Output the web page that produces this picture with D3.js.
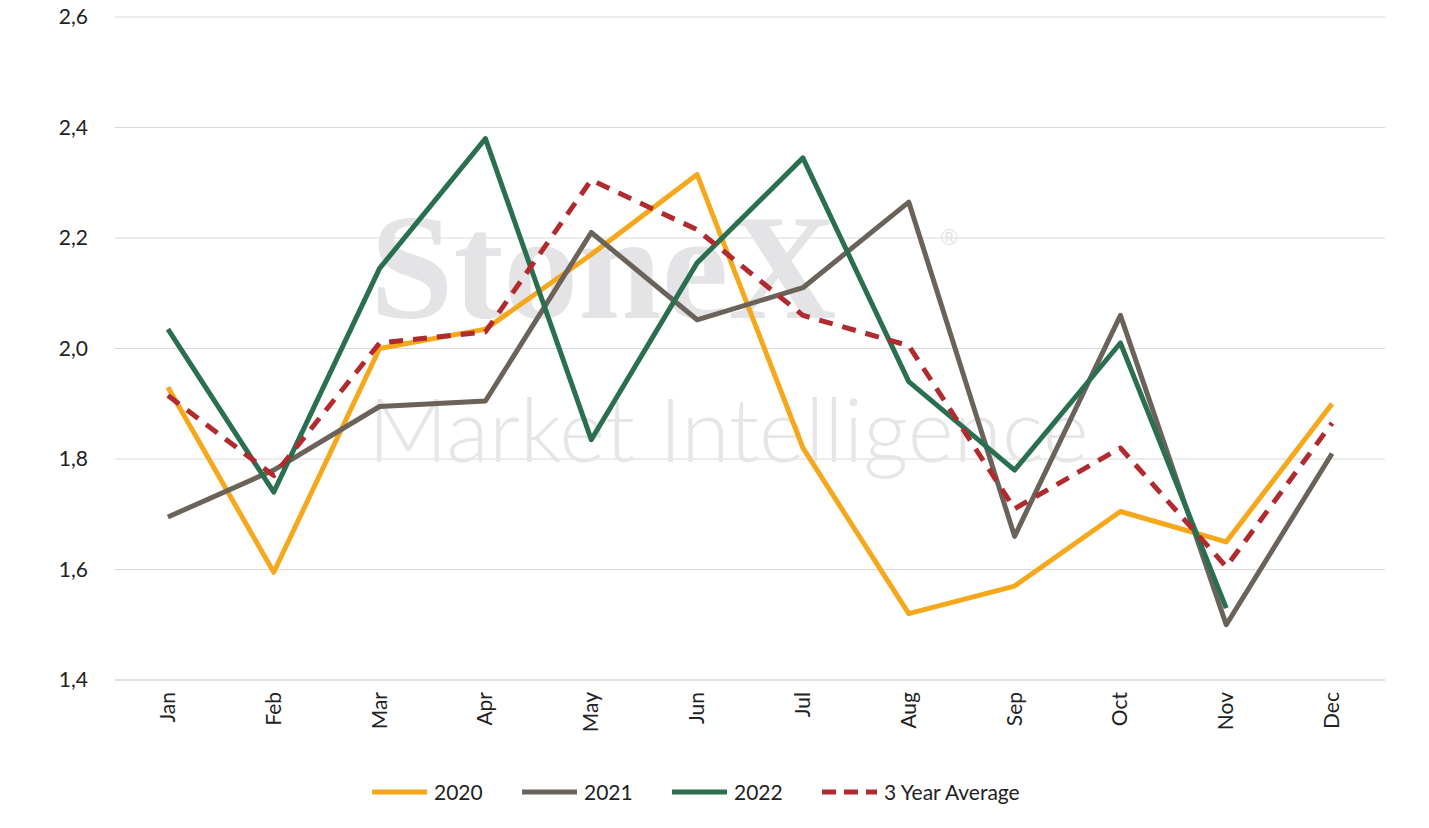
<!DOCTYPE html>
<html><head><meta charset="utf-8">
<script src="https://cdn.jsdelivr.net/npm/d3@7"></script>
<style>body{margin:0;background:#fff;font-family:Lato,"Open Sans",sans-serif;}</style>
</head><body><svg id="c" width="1429" height="828"></svg>
<script>
const months=["Jan","Feb","Mar","Apr","May","Jun","Jul","Aug","Sep","Oct","Nov","Dec"];
const s2020=[1.93,1.595,2.0,2.035,2.17,2.315,1.82,1.52,1.57,1.705,1.65,1.90];
const s2021=[1.695,1.78,1.895,1.905,2.21,2.052,2.11,2.265,1.66,2.06,1.50,1.81];
const s2022=[2.035,1.74,2.145,2.38,1.835,2.155,2.345,1.94,1.78,2.01,1.53,null];
const avg=[1.915,1.77,2.01,2.03,2.305,2.215,2.06,2.005,1.71,1.82,1.605,1.865];
const yTicks=[1.4,1.6,1.8,2.0,2.2,2.4,2.6];
const series=[
 {name:"2020",v:s2020,c:"#F5A81C",dash:null},
 {name:"2021",v:s2021,c:"#6B635A",dash:null},
 {name:"2022",v:s2022,c:"#2A7050",dash:null},
 {name:"3 Year Average",v:avg,c:"#B02A2E",dash:"14,10"}];
const svg=d3.select("#c");
const L=115,R=1385,T=17,B=680;
const x=d3.scaleBand().domain(months).range([L,R]);
const y=d3.scaleLinear().domain([1.4,2.6]).range([B,T]);
const fmt=d=>d.toFixed(1).replace(".",",");
svg.append("g").selectAll("line").data(yTicks).join("line")
 .attr("x1",L).attr("x2",R).attr("y1",d=>y(d)).attr("y2",d=>y(d))
 .attr("stroke",d=>d===1.4?"#bfbfbf":"#d9d9d9").attr("stroke-width",1.2);
svg.append("g").selectAll("text").data(yTicks).join("text")
 .attr("x",88).attr("y",d=>y(d)+7).attr("text-anchor","end")
 .attr("font-size",21).attr("fill","#222").text(fmt);
// watermark
svg.append("text").attr("x",370).attr("y",318).attr("font-family","Liberation Serif,serif")
 .attr("font-size",150).attr("font-weight","bold").attr("fill","#e4e4e6").text("StoneX");
svg.append("text").attr("x",940).attr("y",245).attr("font-size",22).attr("fill","#e4e4e6").text("®");
svg.append("text").attr("x",368).attr("y",462).attr("font-size",88).attr("font-weight",300)
 .attr("fill","#e6e6e8").text("Market Intelligence");
svg.append("g").selectAll("text").data(months).join("text")
 .attr("transform",d=>`translate(${x(d)+x.bandwidth()/2+7},692) rotate(-90)`)
 .attr("text-anchor","end").attr("font-size",21).attr("fill","#222").text(d=>d);
const line=d3.line().defined(d=>d!=null).x((d,i)=>x(months[i])+x.bandwidth()/2).y(d=>y(d));
series.forEach(s=>{
 svg.append("path").attr("d",line(s.v)).attr("fill","none").attr("stroke",s.c)
  .attr("stroke-width",5).attr("stroke-linejoin","round").attr("stroke-dasharray",s.dash);
});
const lx=[372,522,672,822];
const lg=svg.append("g");
series.forEach((s,i)=>{
 lg.append("line").attr("x1",lx[i]).attr("x2",lx[i]+55).attr("y1",792).attr("y2",792)
  .attr("stroke",s.c).attr("stroke-width",5).attr("stroke-dasharray",s.dash?"14,8":null);
 lg.append("text").attr("x",lx[i]+62).attr("y",800).attr("font-size",21).attr("fill","#222").text(s.name);
});
</script></body></html>
